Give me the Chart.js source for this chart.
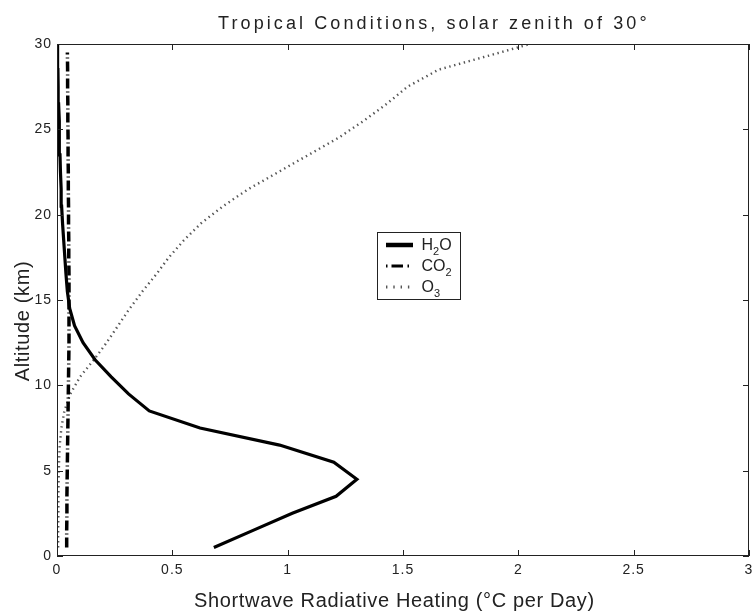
<!DOCTYPE html>
<html>
<head>
<meta charset="utf-8">
<script src="https://cdn.jsdelivr.net/npm/chart.js@4/dist/chart.umd.min.js"></script>
<style>
html,body{margin:0;padding:0;background:#fff;}
#wrap{width:752px;height:614px;}
canvas{display:block;}
</style>
</head>
<body>
<div id="wrap"><canvas id="c" width="752" height="614"></canvas></div>
<script>
// ---- data ----
const altitudesKm = [0.5,1.5,2.5,3.5,4.5,5.5,6.5,7.5,8.5,9.5,10.5,11.5,12.5,13.5,14.5,15.5,16.5,17.5,18.5,19.5,20.5,21.5,22.5,23.5,24.5,25.5,26.5,27.5,28.5,29.5,30];
const h2oHeating = [0.68,0.85,1.02,1.21,1.30,1.20,0.965,0.62,0.40,0.31,0.235,0.165,0.113,0.076,0.055,0.045,0.039,0.034,0.029,0.024,0.020,0.018,0.015,0.013,0.011,0.009,0.007,0.005,0.004,0.003,0.002];
const co2Heating = [0.042,0.042,0.043,0.043,0.044,0.045,0.046,0.047,0.048,0.049,0.050,0.051,0.052,0.052,0.052,0.052,0.052,0.051,0.051,0.050,0.050,0.049,0.049,0.048,0.048,0.047,0.047,0.046,0.046,0.045,null];
const o3Heating = [0.005,0.005,0.006,0.006,0.007,0.009,0.012,0.019,0.032,0.058,0.10,0.16,0.215,0.265,0.315,0.37,0.43,0.485,0.55,0.625,0.72,0.83,0.96,1.09,1.22,1.33,1.43,1.52,1.655,1.92,2.05];
const seriesLabels = ['H2O','CO2','O3'];
const xTickLabels = ['0','0.5','1','1.5','2','2.5','3'];
const yTickLabels = ['0','5','10','15','20','25','30'];
const titleText = 'Tropical Conditions, solar zenith of 30°';
const xAxisTitle = 'Shortwave Radiative Heating (°C per Day)';
const yAxisTitle = 'Altitude (km)';

// ---- styles ----
const FONT = '"Liberation Sans", Arial, Helvetica, sans-serif';
const TEXT = '#222';
const legendDash = [[], [1.5,4,11.5,4.5,1.5,100], [1.4,5.9]];
const legendWidth = [4.5, 3, 3];
const legendColor = ['#000', '#000', '#555'];

function toPoints(vals){
  const pts = [];
  vals.forEach((v,i) => { if (v !== null) pts.push({x: v, y: altitudesKm[i]}); });
  return pts;
}

function hasLS(ctx){ return 'letterSpacing' in ctx; }

function drawChem(ctx, label, x, baseline){
  let cx = x;
  for (const ch of label){
    if (/[0-9]/.test(ch)){
      ctx.font = '11px ' + FONT;
      ctx.fillText(ch, cx, baseline + 5);
      cx += ctx.measureText(ch).width;
    } else {
      ctx.font = '16px ' + FONT;
      ctx.fillText(ch, cx, baseline);
      cx += ctx.measureText(ch).width;
    }
  }
}

const decor = {
  id: 'decor',
  beforeDraw(chart){
    const ctx = chart.ctx;
    ctx.save();
    ctx.fillStyle = '#fff';
    ctx.fillRect(0,0,chart.width,chart.height);
    ctx.restore();
    if (hasLS(ctx)) ctx.letterSpacing = '1px';
  },
  afterDraw(chart){
    const {ctx, chartArea: a, scales: {x, y}} = chart;
    ctx.save();
    if (hasLS(ctx)) ctx.letterSpacing = '0px';
    // axes box
    ctx.strokeStyle = '#222';
    ctx.lineWidth = 1;
    ctx.setLineDash([]);
    ctx.strokeRect(a.left + 0.5, a.top + 0.5, a.right - a.left - 1, a.bottom - a.top - 1);
    // inward ticks on all four sides
    const tl = 6;
    ctx.beginPath();
    x.ticks.forEach(t => {
      const px = Math.round(x.getPixelForValue(t.value)) + 0.5;
      ctx.moveTo(px, a.bottom); ctx.lineTo(px, a.bottom - tl);
      ctx.moveTo(px, a.top); ctx.lineTo(px, a.top + tl);
    });
    y.ticks.forEach(t => {
      const py = Math.round(y.getPixelForValue(t.value)) + 0.5;
      ctx.moveTo(a.left, py); ctx.lineTo(a.left + tl, py);
      ctx.moveTo(a.right, py); ctx.lineTo(a.right - tl, py);
    });
    ctx.stroke();

    // title
    ctx.fillStyle = TEXT;
    ctx.textBaseline = 'alphabetic';
    ctx.textAlign = 'left';
    ctx.font = '18px ' + FONT;
    if (hasLS(ctx)) ctx.letterSpacing = '3.1px';
    ctx.fillText(titleText, 218, 28.5);

    // x axis title
    ctx.font = '20px ' + FONT;
    if (hasLS(ctx)) ctx.letterSpacing = '0.65px';
    ctx.fillText(xAxisTitle, 194, 607);

    // y axis title
    ctx.save();
    ctx.translate(28.5, 321);
    ctx.rotate(-Math.PI/2);
    ctx.textAlign = 'center';
    ctx.fillText(yAxisTitle, 0, 0);
    ctx.restore();
    if (hasLS(ctx)) ctx.letterSpacing = '0px';

    // legend
    const lx = 377.5, ly = 232.5, lw = 83, lh = 67;
    ctx.fillStyle = '#fff';
    ctx.fillRect(lx, ly, lw, lh);
    ctx.strokeStyle = '#222';
    ctx.lineWidth = 1;
    ctx.strokeRect(lx, ly, lw, lh);
    const rowY = [245, 266, 287];
    chart.data.datasets.forEach((ds, i) => {
      ctx.save();
      ctx.strokeStyle = legendColor[i];
      ctx.lineWidth = legendWidth[i];
      ctx.lineCap = 'butt';
      ctx.setLineDash(legendDash[i]);
      ctx.beginPath();
      ctx.moveTo(386, rowY[i]);
      ctx.lineTo(413, rowY[i]);
      ctx.stroke();
      ctx.restore();
      ctx.fillStyle = TEXT;
      ctx.textAlign = 'left';
      drawChem(ctx, seriesLabels[i], 421.5, rowY[i] + 5);
    });
    ctx.restore();
  }
};

const chart = new Chart(document.getElementById('c'), {
  type: 'scatter',
  data: {
    datasets: [
      { label: seriesLabels[0], data: toPoints(h2oHeating), showLine: true, borderColor: '#000', backgroundColor: '#000', borderWidth: 3.2, pointRadius: 0, tension: 0, fill: false },
      { label: seriesLabels[1], data: toPoints(co2Heating), showLine: true, borderColor: '#000', backgroundColor: '#000', borderWidth: 3.5, borderDash: [10,3,1,3], borderCapStyle: 'butt', pointRadius: 0, tension: 0, fill: false },
      { label: seriesLabels[2], data: toPoints(o3Heating), showLine: true, borderColor: '#555', backgroundColor: '#555', borderWidth: 2.4, borderDash: [1.4,3.6], borderCapStyle: 'butt', pointRadius: 0, tension: 0, fill: false }
    ]
  },
  options: {
    responsive: false,
    animation: false,
    devicePixelRatio: 1,
    layout: { padding: { top: 44, right: 3, bottom: 0, left: 0 } },
    plugins: { legend: { display: false }, title: { display: false }, tooltip: { enabled: false } },
    scales: {
      x: {
        type: 'linear', min: 0, max: 3,
        grid: { display: false, drawTicks: false, tickLength: 0 }, border: { display: false },
        ticks: { stepSize: 0.5, padding: 6, color: TEXT, font: { family: FONT, size: 14 }, maxRotation: 0,
                 callback: (v, i) => xTickLabels[i] },
        afterFit: s => { s.height = 58; s.paddingLeft = 0; s.paddingRight = 0; }
      },
      y: {
        type: 'linear', min: 0, max: 30,
        grid: { display: false, drawTicks: false, tickLength: 0 }, border: { display: false },
        ticks: { stepSize: 5, padding: 5, color: TEXT, font: { family: FONT, size: 14 },
                 callback: (v, i) => yTickLabels[i] },
        afterFit: s => { s.width = 57; s.paddingTop = 0; s.paddingBottom = 0; }
      }
    }
  },
  plugins: [decor]
});
</script>
</body>
</html>
